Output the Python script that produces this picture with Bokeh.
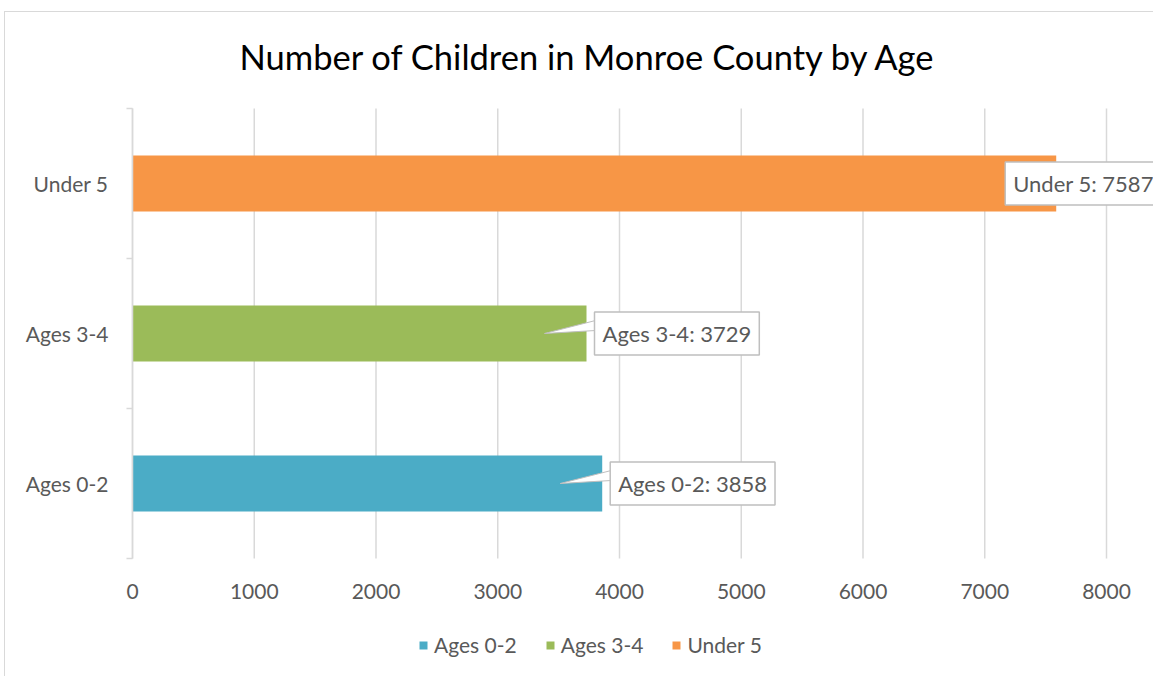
from bokeh.plotting import figure
from bokeh.models import Range1d, FixedTicker, Label, Legend, LegendItem, ColumnDataSource
from bokeh.embed import file_html
from bokeh.resources import INLINE

# ---- data ----
categories = ["Ages 0-2", "Ages 3-4", "Under 5"]
values = [3858, 3729, 7587]
colors = ["#4BACC6", "#9BBB59", "#F79646"]
x_ticks = [0, 1000, 2000, 3000, 4000, 5000, 6000, 7000, 8000]
title_text = "Number of Children in Monroe County by Age"

# ---- styles ----
FONT = "Lato"
TXT = "#595959"
GRID = "#d9d9d9"
label_offsets = [8, 8, -51]       # px offset of the callout box from bar end
show_pointer = [True, True, False]

W, H = 1149, 665
AXIS_X = 127                       # canvas px of the value axis origin
FRAME_TOP = 88                     # canvas px of the top of the plot frame
CAT_TOP = 96                       # canvas px of the top of the category area
frame_w = W
frame_h = H - FRAME_TOP
axis_px_8000 = 974                 # pixel width that 0..8000 spans
band_px = 150                      # pixel height of one category band
px_x = 8000 / axis_px_8000
x_start = -AXIS_X * px_x
x_end = x_start + frame_w * px_x
n = len(categories)
y_end = n + (CAT_TOP - FRAME_TOP) / band_px
y_start = y_end - frame_h / band_px

p = figure(width=W, height=H, x_range=Range1d(x_start, x_end), y_range=Range1d(y_start, y_end),
           output_backend="svg", toolbar_location=None, title=title_text,
           min_border_left=0, min_border_right=0, min_border_top=FRAME_TOP, min_border_bottom=0)
p.styles = {"border-top": "1px solid #d9d9d9", "border-left": "1px solid #d9d9d9",
            "margin-left": "4px", "margin-top": "11px"}
p.outline_line_color = None
p.background_fill_color = "white"
p.border_fill_color = "white"

p.title.text_font = FONT
p.title.text_font_size = "34.5px"
p.title.text_font_style = "normal"
p.title.text_color = "#000000"
p.title.text_line_height = 1.0
p.title.align = "left"
p.title.vertical_align = "top"
p.title.offset = 234
p.title.standoff = 44

px_y = 1 / band_px

# vertical gridlines at the x ticks, limited to the category area
p.segment(x0=x_ticks, y0=[0] * len(x_ticks), x1=x_ticks, y1=[n] * len(x_ticks),
          line_color=GRID, line_width=1.5)
p.xgrid.grid_line_color = None
p.ygrid.grid_line_color = None

ys = [i + 0.5 for i in range(n)]
items = []
for i, cat in enumerate(categories):
    src = ColumnDataSource(dict(y=[ys[i]], right=[values[i]]))
    r = p.hbar(y="y", left=0, right="right", height=0.373, source=src,
               fill_color=colors[i], line_color=None)
    items.append(LegendItem(label=cat, renderers=[r]))

# callout pointers
for i in range(n):
    if not show_pointer[i]:
        continue
    v = values[i]
    xs = [v + (label_offsets[i] + 1) * px_x, v - 42 * px_x, v + (label_offsets[i] + 1) * px_x]
    yy = [ys[i] + 13 * px_y, ys[i], ys[i] + 3 * px_y]
    p.patch(xs, yy, fill_color="white", line_color="#bfbfbf", line_width=1)

# callout labels
for i, cat in enumerate(categories):
    lab = Label(x=values[i], y=ys[i], text=f"{cat}: {values[i]}",
                x_offset=label_offsets[i], text_baseline="middle", text_align="left",
                text_font=FONT, text_font_size="22px", text_color=TXT,
                border_line_color="#bfbfbf", border_line_width=1.5,
                background_fill_color="white", padding=8)
    p.add_layout(lab)

# axes
p.xaxis.fixed_location = 0
p.xaxis.ticker = FixedTicker(ticks=x_ticks)
p.xaxis.axis_line_color = None
p.xaxis.major_tick_line_color = None
p.xaxis.minor_tick_line_color = None
p.xaxis.major_label_standoff = 19
p.xaxis.major_label_text_font = FONT
p.xaxis.major_label_text_font_size = "21px"
p.xaxis.major_label_text_color = TXT

p.yaxis.fixed_location = 0
p.yaxis.bounds = (0, n)
p.yaxis.ticker = FixedTicker(ticks=ys, minor_ticks=list(range(n + 1)))
p.yaxis.major_label_overrides = {ys[i]: categories[i] for i in range(n)}
p.yaxis.axis_line_color = GRID
p.yaxis.axis_line_width = 1.5
p.yaxis.major_tick_line_color = None
p.yaxis.major_tick_out = 0
p.yaxis.major_tick_in = 0
p.yaxis.minor_tick_line_color = GRID
p.yaxis.minor_tick_line_width = 1.5
p.yaxis.minor_tick_out = 6
p.yaxis.minor_tick_in = 0
p.yaxis.major_label_standoff = 18
p.yaxis.major_label_text_font = FONT
p.yaxis.major_label_text_font_size = "21px"
p.yaxis.major_label_text_color = TXT

legend = Legend(items=items, orientation="horizontal", location=(413, 20),
                glyph_width=10, glyph_height=10, label_standoff=6, spacing=28,
                padding=0, margin=0, border_line_color=None, background_fill_alpha=0,
                label_text_font=FONT, label_text_font_size="21px", label_text_color=TXT)
p.add_layout(legend, "center")

open("out.html", "w").write(file_html(p, INLINE))
